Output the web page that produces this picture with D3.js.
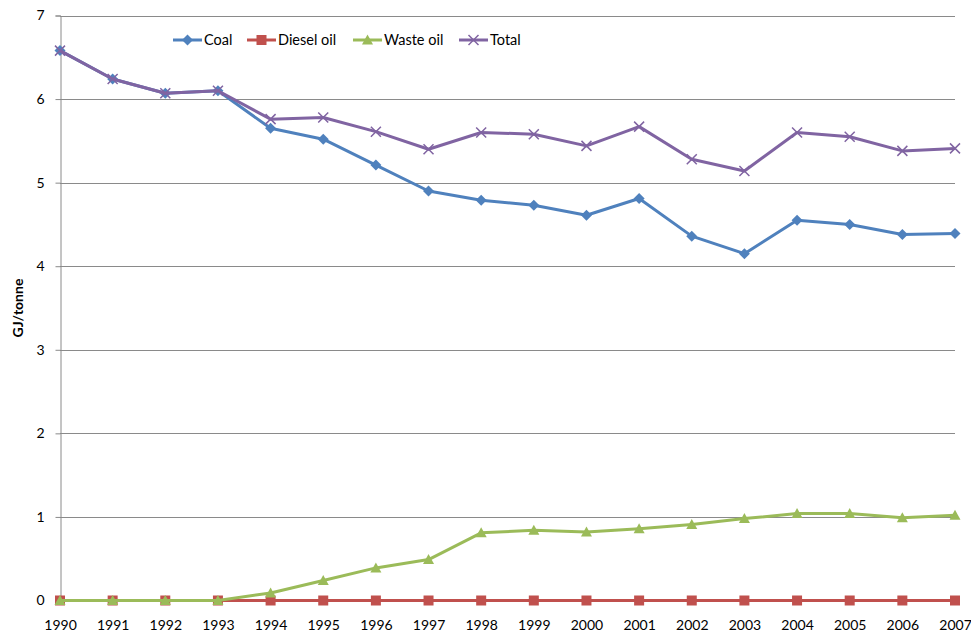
<!DOCTYPE html>
<html>
<head>
<meta charset="utf-8">
<script src="https://cdn.jsdelivr.net/npm/d3@7"></script>
<style>
  html, body { margin: 0; padding: 0; background: #fff; }
  svg { display: block; font-family: Lato, "Open Sans", sans-serif; }
</style>
</head>
<body>
<svg id="chart" width="971" height="636"></svg>
<script>
// Specific energy use per tonne, 1990–2007 (GJ/tonne)
const years = ["1990","1991","1992","1993","1994","1995","1996","1997","1998",
               "1999","2000","2001","2002","2003","2004","2005","2006","2007"];
const coal = [6.58, 6.24, 6.07, 6.10, 5.65, 5.52, 5.21, 4.90, 4.79,
              4.73, 4.61, 4.81, 4.36, 4.15, 4.55, 4.50, 4.38, 4.39];
const dieselOil = [0, 0, 0, 0, 0, 0, 0, 0, 0, 0, 0, 0, 0, 0, 0, 0, 0, 0];
const wasteOil = [0, 0, 0, 0, 0.09, 0.24, 0.39, 0.49, 0.81,
                  0.84, 0.82, 0.86, 0.91, 0.98, 1.04, 1.04, 0.99, 1.02];
const total = [6.58, 6.24, 6.07, 6.10, 5.76, 5.78, 5.61, 5.40, 5.60,
               5.58, 5.44, 5.67, 5.28, 5.14, 5.60, 5.55, 5.38, 5.41];
const yTicks = [0, 1, 2, 3, 4, 5, 6, 7];
const seriesNames = ["Coal", "Diesel oil", "Waste oil", "Total"];

const series = [
  { name: seriesNames[0], values: coal,      color: "#4F81BD", marker: "diamond" },
  { name: seriesNames[1], values: dieselOil, color: "#C0504D", marker: "square" },
  { name: seriesNames[2], values: wasteOil,  color: "#9BBB59", marker: "triangle" },
  { name: seriesNames[3], values: total,     color: "#8064A2", marker: "cross" }
];

const svg = d3.select("#chart");
const plot = { left: 60, right: 955, top: 15.5, bottom: 600.5 };

const x = d3.scalePoint().domain(years).range([plot.left, plot.right]);
const y = d3.scaleLinear().domain([0, 7]).range([plot.bottom, plot.top]);

// horizontal gridlines
svg.append("g")
  .selectAll("line")
  .data(yTicks)
  .join("line")
  .attr("x1", plot.left).attr("x2", plot.right)
  .attr("y1", d => Math.round(y(d)) + 0.5).attr("y2", d => Math.round(y(d)) + 0.5)
  .attr("stroke", "#8a8a8a").attr("stroke-width", 1);

// y axis
const yAxis = svg.append("g")
  .attr("transform", `translate(${plot.left + 0.5},0)`)
  .call(d3.axisLeft(y).tickValues(yTicks).tickSize(5).tickPadding(11).tickFormat(d3.format("d")));
yAxis.select(".domain").attr("stroke", "#8a8a8a");
yAxis.selectAll(".tick line").attr("stroke", "#8a8a8a");
yAxis.selectAll(".tick text")
  .attr("font-size", 14).attr("fill", "#000")
  .attr("font-family", "Lato, 'Open Sans', sans-serif");

// x axis (category labels only)
const xAxis = svg.append("g")
  .attr("transform", `translate(0,${plot.bottom})`)
  .call(d3.axisBottom(x).tickSize(0).tickPadding(20));
xAxis.select(".domain").attr("stroke", "#8a8a8a");
xAxis.selectAll(".tick text")
  .attr("font-size", 14).attr("fill", "#000")
  .attr("font-family", "Lato, 'Open Sans', sans-serif");

// y axis title
svg.append("text")
  .attr("transform", `translate(23,${(plot.top + plot.bottom) / 2}) rotate(-90)`)
  .attr("text-anchor", "middle")
  .attr("font-size", 14).attr("font-weight", "bold")
  .text("GJ/tonne");

function drawMarker(g, type, color) {
  if (type === "diamond") {
    g.append("path").attr("d", "M0,-5.5L5.5,0L0,5.5L-5.5,0Z").attr("fill", color);
  } else if (type === "square") {
    g.append("rect").attr("x", -5).attr("y", -5).attr("width", 10).attr("height", 10).attr("fill", color);
  } else if (type === "triangle") {
    g.append("path").attr("d", "M0,-5.5L5.5,4.5L-5.5,4.5Z").attr("fill", color);
  } else if (type === "cross") {
    g.append("path").attr("d", "M-5,-5L5,5M-5,5L5,-5")
      .attr("stroke", color).attr("stroke-width", 1.5).attr("fill", "none");
  }
}

const line = d3.line().x((d, i) => x(years[i])).y(d => y(d));

series.forEach(s => {
  const g = svg.append("g");
  g.append("path")
    .attr("d", line(s.values))
    .attr("fill", "none")
    .attr("stroke", s.color)
    .attr("stroke-width", 3)
    .attr("stroke-linejoin", "round");
  s.values.forEach((v, i) => {
    const m = g.append("g").attr("transform", `translate(${x(years[i])},${y(v)})`);
    drawMarker(m, s.marker, s.color);
  });
});

// legend
const legendX = [173, 247, 353, 459];
const legend = svg.append("g");
series.forEach((s, i) => {
  const g = legend.append("g").attr("transform", `translate(${legendX[i]},40)`);
  g.append("line").attr("x1", 0).attr("x2", 29).attr("y1", 0).attr("y2", 0)
    .attr("stroke", s.color).attr("stroke-width", 3);
  const m = g.append("g").attr("transform", "translate(14.5,0)");
  drawMarker(m, s.marker, s.color);
  g.append("text").attr("x", 31).attr("y", 0).attr("dy", "0.35em")
    .attr("font-size", 14.5).text(s.name);
});
</script>
</body>
</html>
